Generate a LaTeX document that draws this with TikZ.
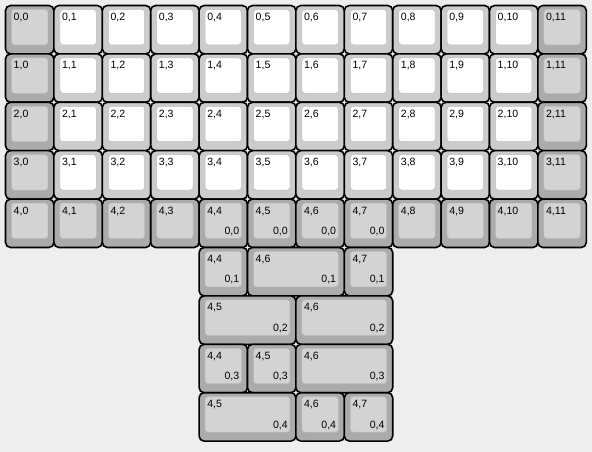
\documentclass[tikz,border=0pt]{standalone}
\usepackage{fontspec}
\setmainfont{Liberation Sans}
\usepackage{tikz}
\usetikzlibrary{positioning,calc}
\definecolor{pageBg}{HTML}{EEEEEE}
\definecolor{modCap}{HTML}{ABABAB}
\definecolor{modTop}{HTML}{D3D3D3}
\definecolor{alphaCap}{HTML}{CCCCCC}
\definecolor{alphaTop}{HTML}{FFFFFF}
\definecolor{topEdge}{HTML}{BDBDBD}

% col, row, width (units), top legend, bottom legend, kind (mod/alpha)
\newcommand{\drawkey}[6]{%
  \node[keycap,#6cap,minimum width={#3*48.4bp}] (k-#2-#1) at ({5.5+#1*48.4},{5.5+#2*48.4}) {};
  \node[keytop,#6top,minimum width={#3*48.4bp-12bp}] (t-#2-#1) at ($(k-#2-#1.north west)+(6,4)$) {};
  \node[legend,anchor=base west] at ($(t-#2-#1.north west)+(2,11)$) {#4};
  \node[legend,anchor=base east] at ($(t-#2-#1.south east)+(-2,-4)$) {#5};
}

\begin{document}
\begin{tikzpicture}[x=1bp,y=-1bp,
    keycap/.style={draw=black,line width=1.6bp,rounded corners=5bp,minimum height=48.4bp,inner sep=0pt,outer sep=0pt,anchor=north west},
    keytop/.style={draw=topEdge,line width=0.5bp,rounded corners=3bp,minimum height=35.4bp,inner sep=0pt,outer sep=0pt,anchor=north west},
    modcap/.style={fill=modCap},
    modtop/.style={fill=modTop},
    alphacap/.style={fill=alphaCap},
    alphatop/.style={fill=alphaTop},
    legend/.style={font=\fontsize{10.6}{12}\selectfont,text=black,inner sep=0pt}
  ]
  \fill[pageBg] (0,0) rectangle (592,452);
  \useasboundingbox (0,0) rectangle (592,452);

  % matrix rows 0-3
  \foreach \r in {0,...,3} {
    \foreach \c in {0,...,11} {
      \ifnum\c=0 \def\kind{mod}\else\ifnum\c=11 \def\kind{mod}\else\def\kind{alpha}\fi\fi
      \drawkey{\c}{\r}{1}{\r,\c}{}{\kind}
    }
  }

  % bottom row
  \foreach \c in {0,...,11} {
    \ifnum\c<4 \def\sub{}\else\ifnum\c>7 \def\sub{}\else\def\sub{0,0}\fi\fi
    \drawkey{\c}{4}{1}{4,\c}{\sub}{mod}
  }

  % layout options
  \foreach \c/\r/\w/\top/\bot in {4/5/1/{4,4}/{0,1}, 5/5/2/{4,6}/{0,1}, 7/5/1/{4,7}/{0,1},
      4/6/2/{4,5}/{0,2}, 6/6/2/{4,6}/{0,2},
      4/7/1/{4,4}/{0,3}, 5/7/1/{4,5}/{0,3}, 6/7/2/{4,6}/{0,3},
      4/8/2/{4,5}/{0,4}, 6/8/1/{4,6}/{0,4}, 7/8/1/{4,7}/{0,4}} {
    \drawkey{\c}{\r}{\w}{\top}{\bot}{mod}
  }
\end{tikzpicture}
\end{document}
